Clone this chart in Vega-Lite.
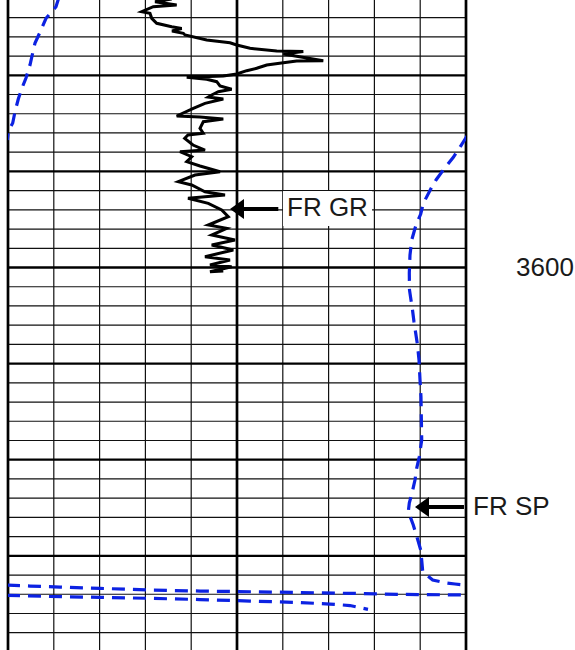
{
  "$schema": "https://vega.github.io/schema/vega-lite/v6.json",
  "width": 458,
  "height": 650,
  "autosize": {"type": "none"},
  "padding": {"left": 8, "right": 109, "top": 0, "bottom": 0},
  "background": "white",
  "config": {"view": {"stroke": null}},
  "datasets": {
    "hminor": [{"d":3548},{"d":3552},{"d":3556},{"d":3564},{"d":3568},{"d":3572},{"d":3576},{"d":3584},{"d":3588},{"d":3592},{"d":3596},{"d":3604},{"d":3608},{"d":3612},{"d":3616},{"d":3624},{"d":3628},{"d":3632},{"d":3636},{"d":3644},{"d":3648},{"d":3652},{"d":3656},{"d":3664},{"d":3668},{"d":3672},{"d":3676}],
    "hmajor": [{"d":3560},{"d":3580},{"d":3600},{"d":3620},{"d":3640},{"d":3660}],
    "vminor": [{"v":1},{"v":2},{"v":3},{"v":4},{"v":6},{"v":7},{"v":8},{"v":9}],
    "vmajor": [{"v":0},{"v":5},{"v":10}],
    "gr": [
      {"i":1,"v":3.574,"d":3544.12},{"i":2,"v":3.210,"d":3544.68},{"i":3,"v":3.683,"d":3545.37},{"i":4,"v":3.172,"d":3545.72},
      {"i":5,"v":2.919,"d":3546.76},{"i":6,"v":3.100,"d":3547.10},{"i":7,"v":3.138,"d":3548.14},{"i":8,"v":3.247,"d":3549.18},
      {"i":9,"v":3.574,"d":3549.89},{"i":10,"v":3.793,"d":3550.26},{"i":11,"v":3.581,"d":3550.78},{"i":12,"v":3.828,"d":3551.26},
      {"i":13,"v":3.865,"d":3551.61},{"i":14,"v":4.338,"d":3552.65},{"i":15,"v":4.847,"d":3553.22},{"i":16,"v":4.993,"d":3553.70},
      {"i":17,"v":5.284,"d":3554.38},{"i":18,"v":5.867,"d":3554.94},{"i":19,"v":6.448,"d":3555.05},{"i":20,"v":6.011,"d":3555.57},
      {"i":21,"v":6.884,"d":3556.96},{"i":22,"v":6.303,"d":3557.03},{"i":23,"v":6.011,"d":3557.38},{"i":24,"v":5.649,"d":3557.86},
      {"i":25,"v":5.430,"d":3558.54},{"i":26,"v":5.212,"d":3559.04},{"i":27,"v":4.993,"d":3559.73},{"i":28,"v":4.701,"d":3560.15},
      {"i":29,"v":3.902,"d":3560.42},{"i":30,"v":4.338,"d":3560.83},{"i":31,"v":4.557,"d":3561.33},{"i":32,"v":4.629,"d":3562.23},
      {"i":33,"v":4.884,"d":3562.91},{"i":34,"v":4.592,"d":3563.41},{"i":35,"v":4.448,"d":3564.10},{"i":36,"v":4.373,"d":3564.52},
      {"i":37,"v":4.701,"d":3564.93},{"i":38,"v":4.301,"d":3565.83},{"i":39,"v":4.046,"d":3566.87},{"i":40,"v":3.683,"d":3568.47},
      {"i":41,"v":4.192,"d":3568.68},{"i":42,"v":4.701,"d":3569.10},{"i":43,"v":4.264,"d":3569.66},{"i":44,"v":4.192,"d":3571.03},
      {"i":45,"v":4.264,"d":3572.07},{"i":46,"v":3.930,"d":3572.43},{"i":47,"v":3.858,"d":3573.11},{"i":48,"v":4.039,"d":3574.51},
      {"i":49,"v":4.301,"d":3575.55},{"i":50,"v":3.755,"d":3575.90},{"i":51,"v":4.011,"d":3576.94},{"i":52,"v":3.902,"d":3577.98},
      {"i":53,"v":4.192,"d":3578.88},{"i":54,"v":4.629,"d":3580.06},{"i":55,"v":4.083,"d":3580.75},{"i":56,"v":3.718,"d":3582.14},
      {"i":57,"v":4.011,"d":3582.83},{"i":58,"v":4.301,"d":3584.23},{"i":59,"v":4.738,"d":3584.91},{"i":60,"v":3.930,"d":3585.60},
      {"i":61,"v":4.373,"d":3586.64},{"i":62,"v":4.666,"d":3588.03},{"i":63,"v":4.810,"d":3589.43},{"i":64,"v":4.373,"d":3591.16},
      {"i":65,"v":4.775,"d":3591.84},{"i":66,"v":4.448,"d":3593.24},{"i":67,"v":4.956,"d":3594.28},{"i":68,"v":4.448,"d":3595.32},
      {"i":69,"v":4.919,"d":3596.36},{"i":70,"v":4.301,"d":3597.75},{"i":71,"v":4.847,"d":3598.44},{"i":72,"v":4.410,"d":3599.48},
      {"i":73,"v":4.884,"d":3599.83},{"i":74,"v":4.410,"d":3600.87},{"i":75,"v":4.701,"d":3600.73}
    ],
    "sp": [
      {"seg":1,"i":1,"v":1.114,"d":3543.71},{"seg":1,"i":2,"v":1.048,"d":3545.72},{"seg":1,"i":3,"v":0.830,"d":3548.14},
      {"seg":1,"i":4,"v":0.714,"d":3550.72},{"seg":1,"i":5,"v":0.590,"d":3553.28},{"seg":1,"i":6,"v":0.539,"d":3555.36},
      {"seg":1,"i":7,"v":0.480,"d":3557.86},{"seg":1,"i":8,"v":0.393,"d":3560.56},{"seg":1,"i":9,"v":0.306,"d":3562.64},
      {"seg":1,"i":10,"v":0.225,"d":3564.93},{"seg":1,"i":11,"v":0.153,"d":3567.58},{"seg":1,"i":12,"v":0.103,"d":3569.93},
      {"seg":1,"i":13,"v":0.044,"d":3570.97},{"seg":1,"i":14,"v":0.007,"d":3571.80},{"seg":1,"i":15,"v":-0.015,"d":3573.47},
      {"seg":2,"i":16,"v":10.022,"d":3572.63},{"seg":2,"i":17,"v":9.884,"d":3574.72},{"seg":2,"i":18,"v":9.723,"d":3577.07},
      {"seg":2,"i":19,"v":9.504,"d":3579.71},{"seg":2,"i":20,"v":9.345,"d":3581.79},{"seg":2,"i":21,"v":9.251,"d":3583.31},
      {"seg":2,"i":22,"v":9.068,"d":3586.64},{"seg":2,"i":23,"v":9.011,"d":3588.87},{"seg":2,"i":24,"v":8.908,"d":3591.16},
      {"seg":2,"i":25,"v":8.815,"d":3594.28},{"seg":2,"i":26,"v":8.777,"d":3597.40},{"seg":2,"i":27,"v":8.762,"d":3601.15},
      {"seg":2,"i":28,"v":8.766,"d":3604.68},{"seg":2,"i":29,"v":8.799,"d":3606.77},{"seg":2,"i":30,"v":8.832,"d":3608.85},
      {"seg":2,"i":31,"v":8.865,"d":3611.34},{"seg":2,"i":32,"v":8.908,"d":3614.05},{"seg":2,"i":33,"v":8.941,"d":3616.13},
      {"seg":2,"i":34,"v":8.974,"d":3619.25},{"seg":2,"i":35,"v":8.996,"d":3623.42},{"seg":2,"i":36,"v":9.017,"d":3626.95},
      {"seg":2,"i":37,"v":9.033,"d":3635.90},{"seg":2,"i":38,"v":8.980,"d":3639.38},{"seg":2,"i":39,"v":8.924,"d":3641.73},
      {"seg":2,"i":40,"v":8.886,"d":3644.23},{"seg":2,"i":41,"v":8.828,"d":3646.66},{"seg":2,"i":42,"v":8.762,"d":3649.01},
      {"seg":2,"i":43,"v":8.740,"d":3650.82},{"seg":2,"i":44,"v":8.849,"d":3653.59},{"seg":2,"i":45,"v":8.937,"d":3656.36},
      {"seg":2,"i":46,"v":8.980,"d":3657.75},{"seg":2,"i":47,"v":9.011,"d":3658.80},{"seg":2,"i":48,"v":9.033,"d":3660.88},
      {"seg":2,"i":49,"v":9.055,"d":3663.31},{"seg":2,"i":50,"v":9.273,"d":3665.04},{"seg":2,"i":51,"v":9.541,"d":3665.60},
      {"seg":2,"i":52,"v":9.760,"d":3665.87},{"seg":2,"i":53,"v":10.022,"d":3666.14},
      {"seg":3,"i":54,"v":-0.022,"d":3666.08},{"seg":3,"i":55,"v":0.480,"d":3666.29},{"seg":3,"i":56,"v":1.135,"d":3666.50},
      {"seg":3,"i":57,"v":2.009,"d":3666.77},{"seg":3,"i":58,"v":3.100,"d":3667.12},{"seg":3,"i":59,"v":4.192,"d":3667.33},
      {"seg":3,"i":60,"v":5.284,"d":3667.48},{"seg":3,"i":61,"v":6.376,"d":3667.64},{"seg":3,"i":62,"v":7.467,"d":3667.81},
      {"seg":3,"i":63,"v":8.559,"d":3668.02},{"seg":3,"i":64,"v":10.022,"d":3668.16},
      {"seg":4,"i":65,"v":-0.022,"d":3668.22},{"seg":4,"i":66,"v":0.917,"d":3668.47},{"seg":4,"i":67,"v":2.009,"d":3668.64},
      {"seg":4,"i":68,"v":3.100,"d":3668.85},{"seg":4,"i":69,"v":4.192,"d":3669.10},{"seg":4,"i":70,"v":5.284,"d":3669.41},
      {"seg":4,"i":71,"v":6.376,"d":3669.72},{"seg":4,"i":72,"v":7.031,"d":3670.04},{"seg":4,"i":73,"v":7.467,"d":3670.35},
      {"seg":4,"i":74,"v":7.860,"d":3671.14}
    ],
    "labels": [
      {"label":"FR GR","v":6.092,"d":3587.62,"boxed":true},
      {"label":"FR SP","v":10.153,"d":3649.78,"boxed":false},
      {"label":"3600","v":11.092,"d":3600,"boxed":false}
    ],
    "arrows": [
      {"label":"FR GR","tip":4.847,"tail":5.902,"d":3587.83},
      {"label":"FR SP","tip":8.886,"tail":9.956,"d":3649.85}
    ]
  },
  "layer": [
    {
      "data": {"name": "hminor"},
      "mark": {"type": "rule", "color": "#111111", "strokeWidth": 1.2},
      "encoding": {
        "y": {"field": "d", "type": "quantitative", "axis": null, "scale": {"domain": [3544.33, 3679.6], "reverse": true, "nice": false, "zero": false}}
      }
    },
    {
      "data": {"name": "vminor"},
      "mark": {"type": "rule", "color": "#111111", "strokeWidth": 1.2},
      "encoding": {
        "x": {"field": "v", "type": "quantitative", "axis": null, "scale": {"domain": [0, 10], "nice": false, "zero": false}}
      }
    },
    {
      "data": {"name": "hmajor"},
      "mark": {"type": "rule", "color": "#000000", "strokeWidth": 2.3},
      "encoding": {
        "y": {"field": "d", "type": "quantitative", "axis": null, "scale": {"domain": [3544.33, 3679.6], "reverse": true, "nice": false, "zero": false}}
      }
    },
    {
      "data": {"name": "vmajor"},
      "mark": {"type": "rule", "color": "#000000", "strokeWidth": 2.7},
      "encoding": {
        "x": {"field": "v", "type": "quantitative", "axis": null, "scale": {"domain": [0, 10], "nice": false, "zero": false}}
      }
    },
    {
      "data": {"name": "labels"},
      "transform": [{"filter": "datum.boxed"}],
      "mark": {"type": "rect", "color": "white", "xOffset": -4, "x2Offset": 85, "yOffset": -17, "y2Offset": 18},
      "encoding": {
        "x": {"field": "v", "type": "quantitative", "axis": null, "scale": {"domain": [0, 10], "nice": false, "zero": false}},
        "x2": {"field": "v"},
        "y": {"field": "d", "type": "quantitative", "axis": null, "scale": {"domain": [3544.33, 3679.6], "reverse": true, "nice": false, "zero": false}},
        "y2": {"field": "d"}
      }
    },
    {
      "data": {"name": "sp"},
      "mark": {"type": "line", "color": "#0c22e2", "strokeWidth": 3.2, "strokeDash": [13, 8], "clip": true},
      "encoding": {
        "x": {"field": "v", "type": "quantitative", "axis": null, "scale": {"domain": [0, 10], "nice": false, "zero": false}},
        "y": {"field": "d", "type": "quantitative", "axis": null, "scale": {"domain": [3544.33, 3679.6], "reverse": true, "nice": false, "zero": false}},
        "detail": {"field": "seg"},
        "order": {"field": "i", "type": "quantitative"}
      }
    },
    {
      "data": {"name": "gr"},
      "mark": {"type": "line", "color": "#000000", "strokeWidth": 3, "clip": true, "strokeJoin": "miter"},
      "encoding": {
        "x": {"field": "v", "type": "quantitative", "axis": null, "scale": {"domain": [0, 10], "nice": false, "zero": false}},
        "y": {"field": "d", "type": "quantitative", "axis": null, "scale": {"domain": [3544.33, 3679.6], "reverse": true, "nice": false, "zero": false}},
        "order": {"field": "i", "type": "quantitative"}
      }
    },
    {
      "data": {"name": "arrows"},
      "mark": {"type": "rule", "color": "#000000", "strokeWidth": 4, "xOffset": 10},
      "encoding": {
        "x": {"field": "tip", "type": "quantitative", "axis": null, "scale": {"domain": [0, 10], "nice": false, "zero": false}},
        "x2": {"field": "tail"},
        "y": {"field": "d", "type": "quantitative", "axis": null, "scale": {"domain": [3544.33, 3679.6], "reverse": true, "nice": false, "zero": false}}
      }
    },
    {
      "data": {"name": "arrows"},
      "mark": {"type": "point", "shape": "M0,0L1.4,-1L1.4,1Z", "filled": true, "color": "#000000", "size": 400, "opacity": 1},
      "encoding": {
        "x": {"field": "tip", "type": "quantitative", "axis": null, "scale": {"domain": [0, 10], "nice": false, "zero": false}},
        "y": {"field": "d", "type": "quantitative", "axis": null, "scale": {"domain": [3544.33, 3679.6], "reverse": true, "nice": false, "zero": false}}
      }
    },
    {
      "data": {"name": "labels"},
      "mark": {"type": "text", "align": "left", "baseline": "middle", "font": "Liberation Sans", "fontSize": 26, "color": "#1a1a1a"},
      "encoding": {
        "x": {"field": "v", "type": "quantitative", "axis": null, "scale": {"domain": [0, 10], "nice": false, "zero": false}},
        "y": {"field": "d", "type": "quantitative", "axis": null, "scale": {"domain": [3544.33, 3679.6], "reverse": true, "nice": false, "zero": false}},
        "text": {"field": "label"}
      }
    }
  ]
}
